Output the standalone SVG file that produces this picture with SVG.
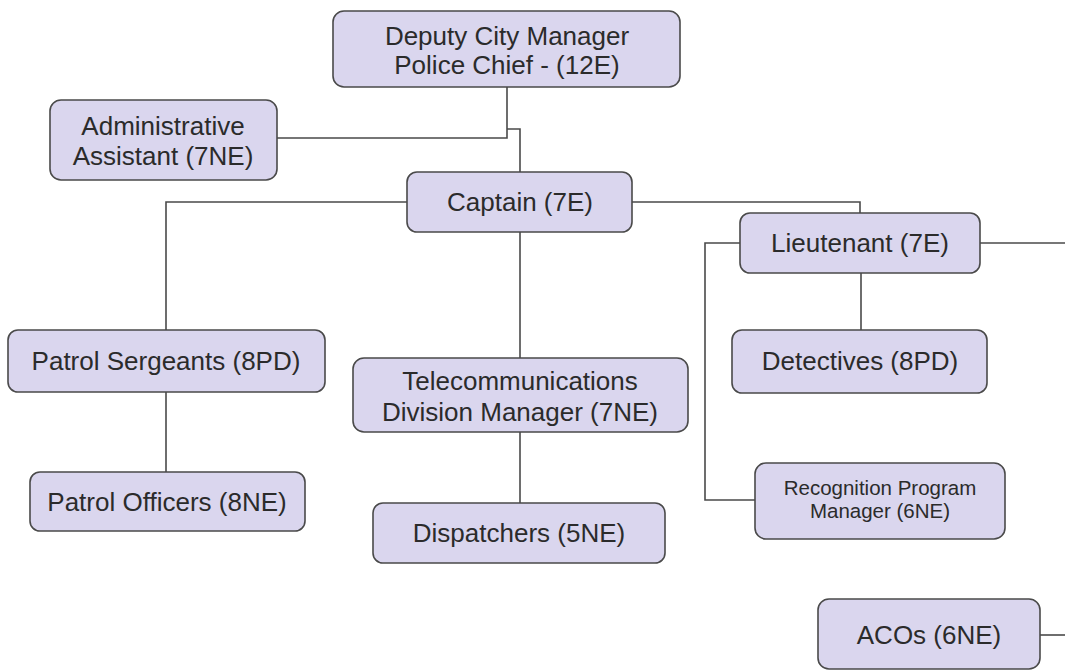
<svg xmlns="http://www.w3.org/2000/svg" width="1065" height="671" viewBox="0 0 1065 671">
  <style>
    .box { fill: #dad6ee; stroke: #4a4a4a; stroke-width: 1.6; }
    .lbl { font-family: "Liberation Sans", Arial, sans-serif; font-size: 26px; fill: #2b2b2b; text-anchor: middle; }
    .sm { font-size: 20.5px; }
    .wire { fill: none; stroke: #4a4a4a; stroke-width: 1.6; }
  </style>
  <rect width="1065" height="671" fill="#ffffff"/>

  <!-- reporting lines -->
  <g id="connectors">
    <path class="wire" d="M507,87 V138 H277"/>
    <path class="wire" d="M507,129 H520 V172"/>
    <path class="wire" d="M407,202 H166 V330"/>
    <path class="wire" d="M632,202 H860 V213"/>
    <path class="wire" d="M520,232 V358"/>
    <path class="wire" d="M166,392 V472"/>
    <path class="wire" d="M520,432 V503"/>
    <path class="wire" d="M740,243 H705 V500 H755"/>
    <path class="wire" d="M980,243 H1065"/>
    <path class="wire" d="M861,273 V330"/>
    <path class="wire" d="M1040,635 H1065"/>
  </g>

  <g id="deputy-city-manager">
    <rect class="box" x="333" y="11" width="347" height="76" rx="11"/>
    <text class="lbl" x="507" y="45">Deputy City Manager</text>
    <text class="lbl" x="507" y="74">Police Chief - (12E)</text>
  </g>

  <g id="administrative-assistant">
    <rect class="box" x="50" y="100" width="227" height="80" rx="11"/>
    <text class="lbl" x="163" y="135">Administrative</text>
    <text class="lbl" x="163" y="165">Assistant (7NE)</text>
  </g>

  <g id="captain">
    <rect class="box" x="407" y="172" width="225" height="60" rx="10"/>
    <text class="lbl" x="520" y="211">Captain (7E)</text>
  </g>

  <g id="lieutenant">
    <rect class="box" x="740" y="213" width="240" height="60" rx="10"/>
    <text class="lbl" x="860" y="252">Lieutenant (7E)</text>
  </g>

  <g id="patrol-sergeants">
    <rect class="box" x="8" y="330" width="317" height="62" rx="10"/>
    <text class="lbl" x="166" y="370">Patrol Sergeants (8PD)</text>
  </g>

  <g id="telecom-manager">
    <rect class="box" x="353" y="358" width="335" height="74" rx="11"/>
    <text class="lbl" x="520" y="390">Telecommunications</text>
    <text class="lbl" x="520" y="421">Division Manager (7NE)</text>
  </g>

  <g id="detectives">
    <rect class="box" x="732" y="330" width="255" height="63" rx="10"/>
    <text class="lbl" x="860" y="370">Detectives (8PD)</text>
  </g>

  <g id="patrol-officers">
    <rect class="box" x="30" y="472" width="275" height="59" rx="10"/>
    <text class="lbl" x="167" y="511">Patrol Officers (8NE)</text>
  </g>

  <g id="dispatchers">
    <rect class="box" x="373" y="503" width="292" height="60" rx="10"/>
    <text class="lbl" x="519" y="542">Dispatchers (5NE)</text>
  </g>

  <g id="recognition-program-manager">
    <rect class="box" x="755" y="463" width="250" height="76" rx="11"/>
    <text class="lbl sm" x="880" y="495">Recognition Program</text>
    <text class="lbl sm" x="880" y="518">Manager (6NE)</text>
  </g>

  <g id="acos">
    <rect class="box" x="818" y="599" width="222" height="70" rx="11"/>
    <text class="lbl" x="929" y="644">ACOs (6NE)</text>
  </g>
</svg>
